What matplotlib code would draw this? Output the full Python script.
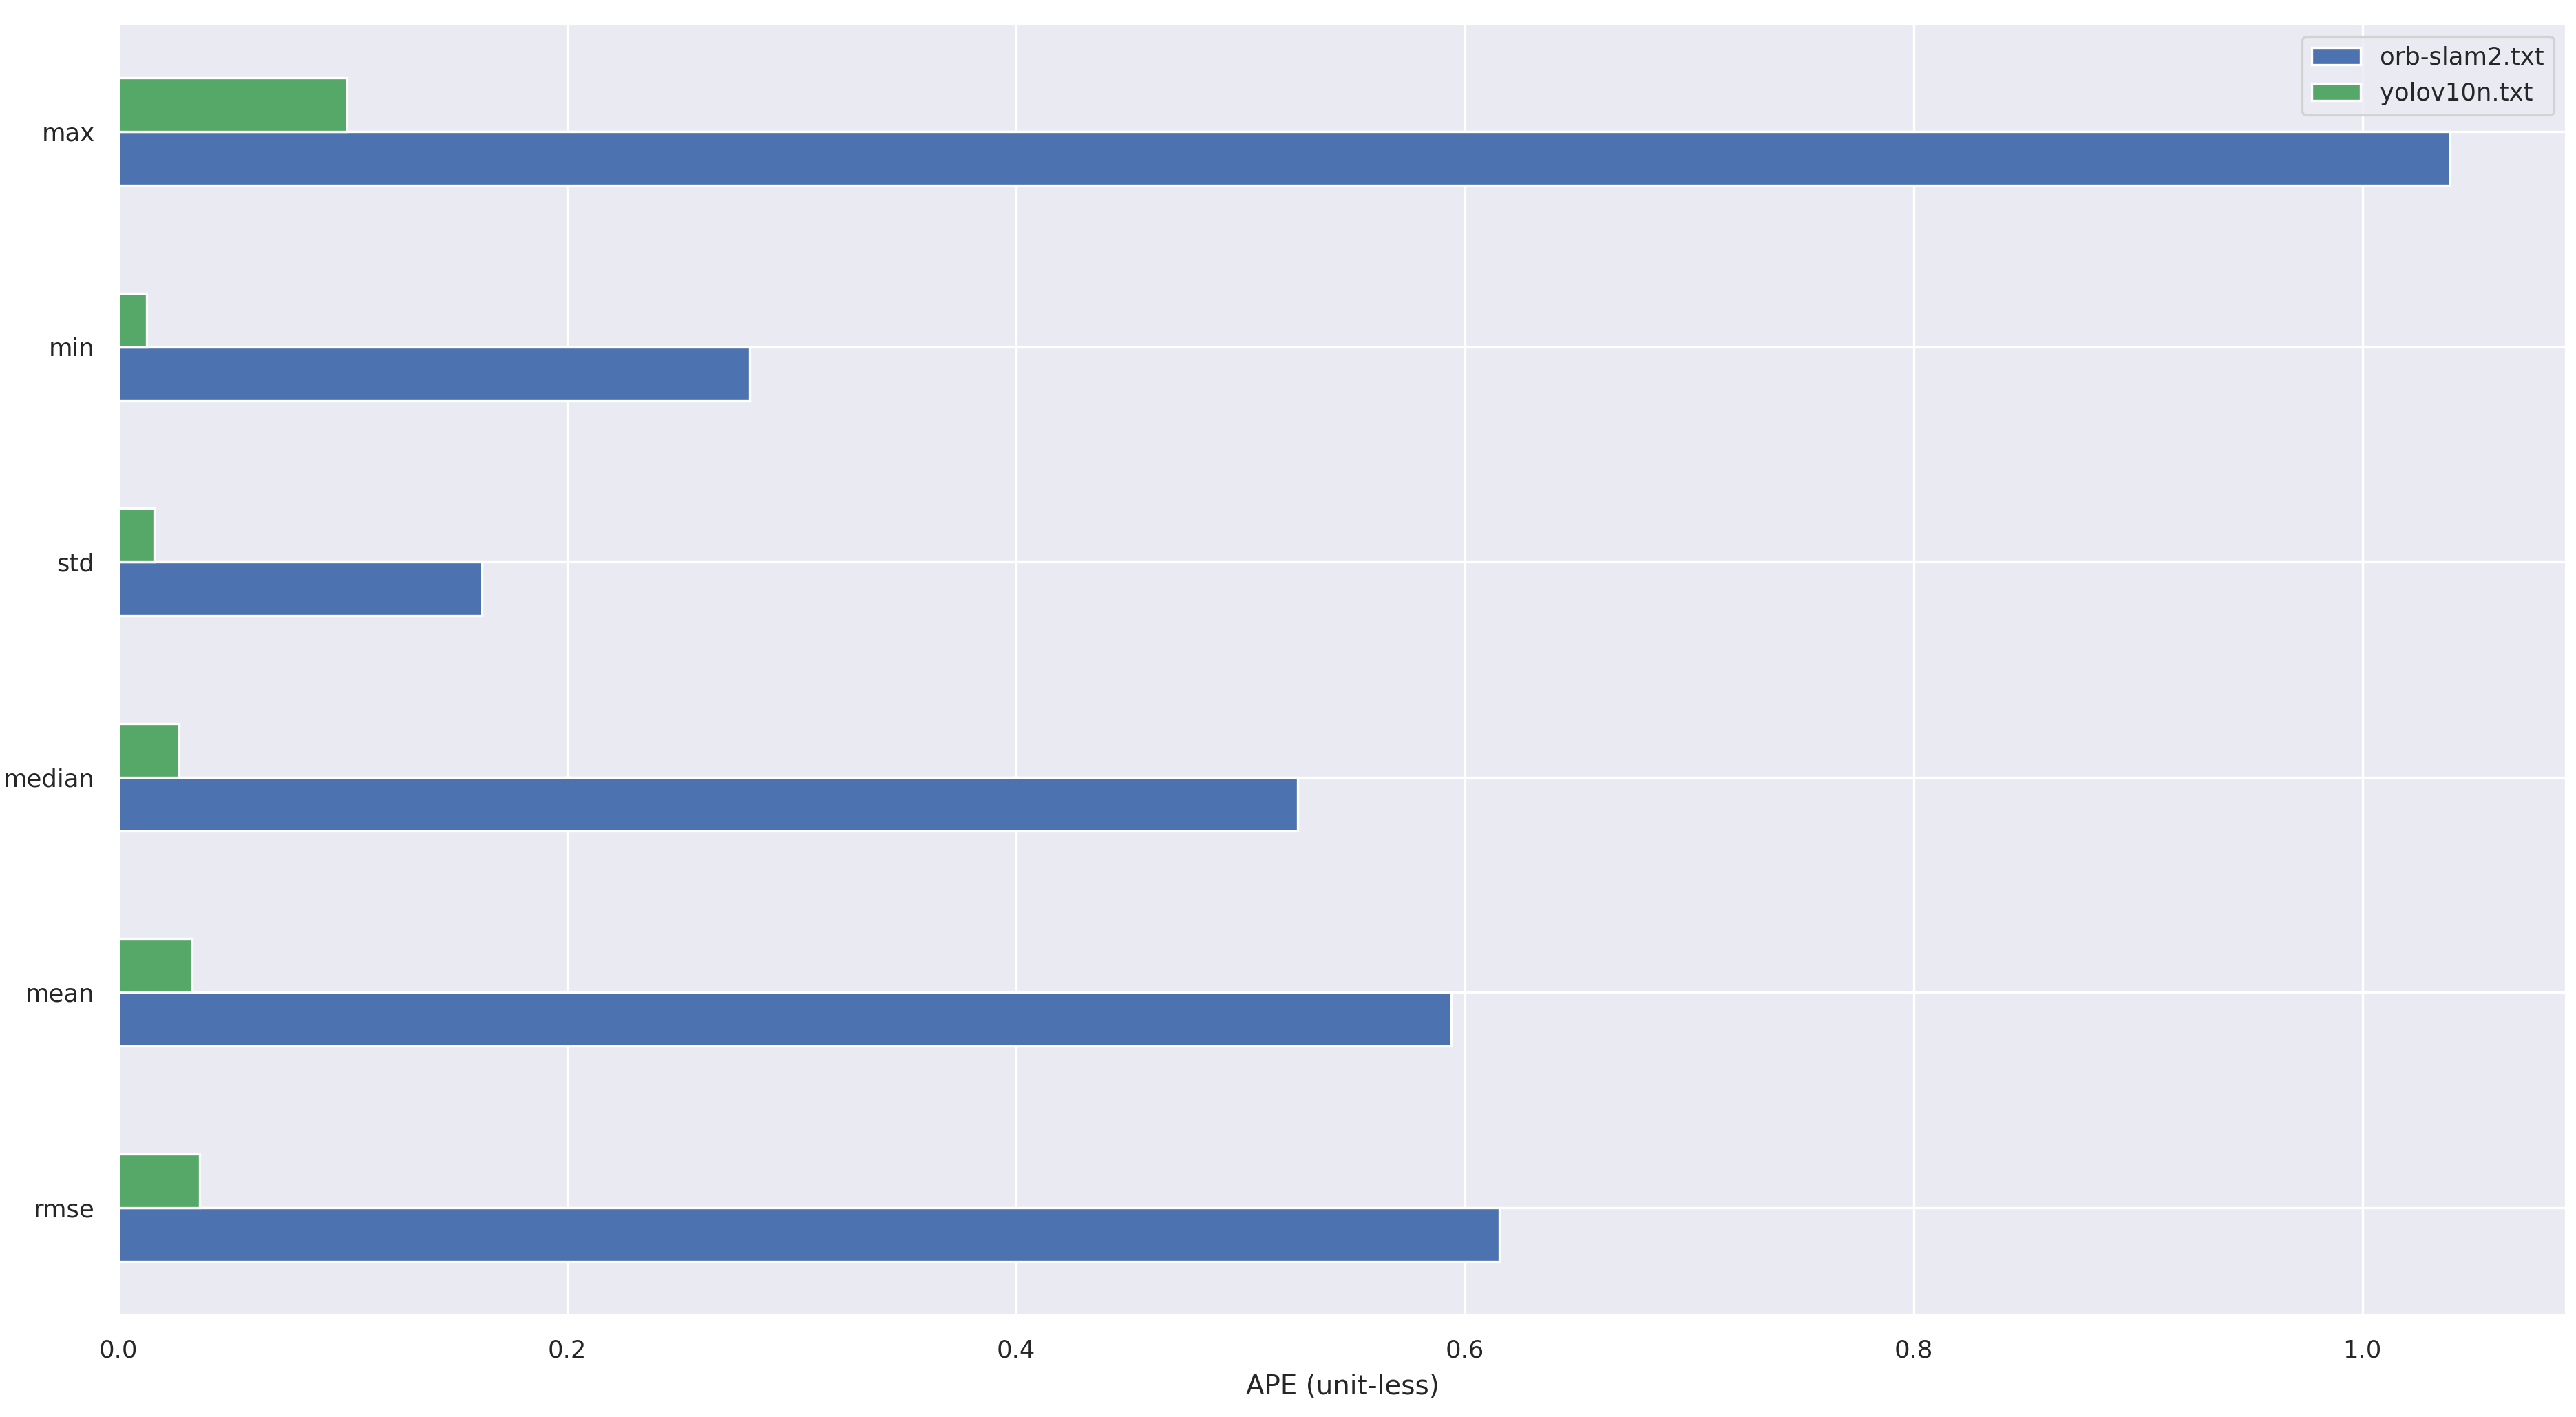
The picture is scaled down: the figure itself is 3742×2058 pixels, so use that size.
import matplotlib
matplotlib.use("Agg")
import matplotlib.pyplot as plt
import numpy as np
import seaborn as sns

# APE statistics, bottom to top as pandas barh draws them
stats = ["rmse", "mean", "median", "std", "min", "max"]
orb_slam2 = [0.6155, 0.594, 0.5256, 0.162, 0.2814, 1.039]
yolov10n = [0.0362, 0.0327, 0.0270, 0.0159, 0.0125, 0.1018]
series_names = ["orb-slam2.txt", "yolov10n.txt"]
series_colors = ["#4C72B0", "#55A868"]

sns.set_theme(style="darkgrid", context="paper")
plt.rcParams["font.family"] = ["DejaVu Sans"]
plt.rcParams["xtick.labelsize"] = 8.5
plt.rcParams["ytick.labelsize"] = 8.5
plt.rcParams["axes.labelsize"] = 9.3
plt.rcParams["legend.fontsize"] = 8.5

W, H, DPI = 3742, 2058, 300
fig = plt.figure(figsize=(W / DPI, H / DPI), dpi=DPI)
ax = fig.add_axes([172 / W, 1 - 1910 / H, (3728 - 172) / W, (1910 - 35) / H])

y = np.arange(len(stats))
bar_h = 0.25
for k, (vals, name, col) in enumerate(zip([orb_slam2, yolov10n], series_names, series_colors)):
    ax.barh(y + (k - 0.5) * bar_h, vals, height=bar_h, color=col,
            edgecolor="white", linewidth=0.8, label=name)

ax.set_yticks(y)
ax.set_yticklabels(stats)
ax.set_ylim(-0.5, len(stats) - 0.5)
ax.set_xlabel("APE (unit-less)")
ax.legend(loc="upper right")

fig.savefig("out.png", dpi=DPI)
